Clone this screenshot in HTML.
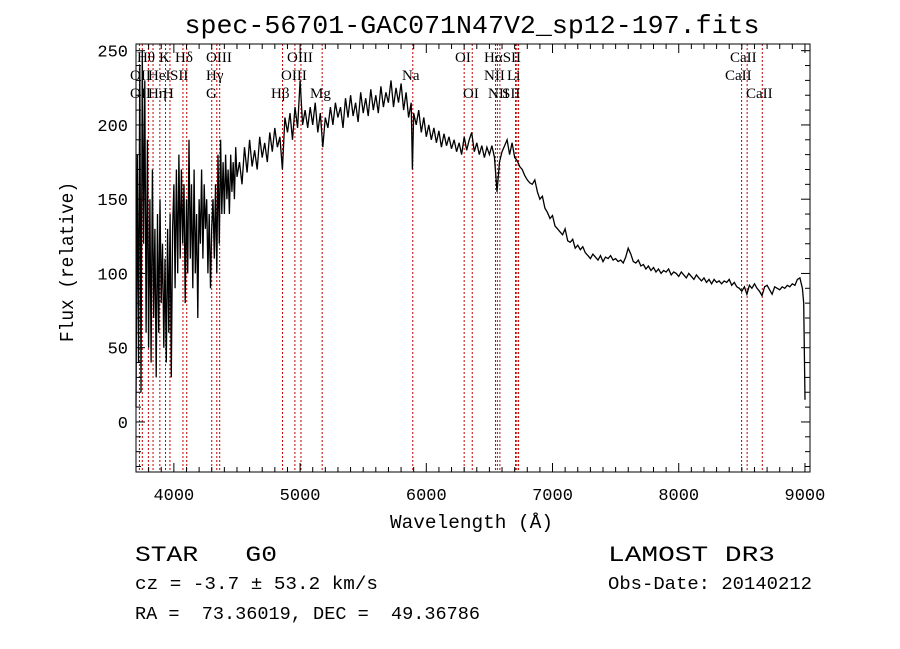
<!DOCTYPE html>
<html><head><meta charset="utf-8"><style>
html,body{margin:0;padding:0;background:#fff;}
svg{display:block;}
text{font-family:"Liberation Mono",monospace;fill:#000;white-space:pre;}
.lbl{font-family:"Liberation Serif",serif;font-size:15px;}
</style></head><body>
<svg id="chart" width="900" height="649" viewBox="0 0 900 649" xmlns="http://www.w3.org/2000/svg" xml:space="preserve">
<rect x="0" y="0" width="900" height="649" fill="#fff"/>
<text x="472" y="33" font-size="26" text-anchor="middle" textLength="575" lengthAdjust="spacingAndGlyphs">spec-56701-GAC071N47V2_sp12-197.fits</text>
<g id="lines"></g>
<g id="labels"></g>
<path id="spec" fill="none" stroke="#000" stroke-width="1.3"/>
<rect x="136" y="44" width="674" height="428" fill="none" stroke="#000" stroke-width="1"/>
<g id="axes"></g>
<text x="390" y="528" font-size="19" textLength="163" lengthAdjust="spacingAndGlyphs">Wavelength (Å)</text>
<text transform="translate(73,342) rotate(-90)" font-size="19" textLength="160" lengthAdjust="spacingAndGlyphs">Flux (relative)</text>
<text x="135" y="561" font-size="22" textLength="142" lengthAdjust="spacingAndGlyphs">STAR   G0</text>
<text x="608" y="561" font-size="22" textLength="167" lengthAdjust="spacingAndGlyphs">LAMOST DR3</text>
<text x="135" y="589" font-size="18" textLength="243" lengthAdjust="spacingAndGlyphs">cz = -3.7 ± 53.2 km/s</text>
<text x="608" y="589" font-size="18" textLength="204" lengthAdjust="spacingAndGlyphs">Obs-Date: 20140212</text>
<text x="135" y="619" font-size="18" textLength="345" lengthAdjust="spacingAndGlyphs">RA =  73.36019, DEC =  49.36786</text>
</svg>
<script>
const wavelengths = [3700,3710,3720,3730,3740,3750,3760,3770,3780,3790,3800,3810,3820,3830,3840,3850,3860,3870,3880,3890,3900,3910,3920,3930,3940,3950,3960,3970,3980,3990,4000,4010,4020,4030,4040,4050,4060,4070,4080,4090,4100,4110,4120,4130,4140,4150,4160,4170,4180,4190,4200,4210,4220,4230,4240,4250,4260,4270,4280,4290,4300,4310,4320,4330,4340,4350,4360,4370,4380,4390,4400,4410,4420,4430,4440,4450,4460,4470,4480,4490,4500,
4520,4540,4560,4580,4600,4620,4640,4660,4680,4700,4720,4740,4760,4780,4800,4820,4840,4860,4880,4900,4920,4940,4960,4980,5000,5020,5040,5060,5080,5100,5120,5140,5160,5180,5200,5220,5240,5260,5280,5300,5320,5340,5360,5380,5400,5420,5440,5460,5480,5500,5520,5540,5560,5580,5600,5620,5640,5660,5680,5700,5720,5740,5760,5780,5800,5820,5840,5860,5880,5890,5900,5920,5940,5960,5980,6000,6020,6040,6060,6080,6100,6120,6140,6160,6180,6200,6220,6240,6260,6280,6300,6320,6340,6360,6380,6400,6420,6440,6460,6480,6500,6520,6540,6560,6580,6600,6620,6640,6660,6680,6700,6720,6740,6760,6780,6800,
6820,6840,6860,6880,6900,6920,6940,6960,6980,7000,7020,7040,7060,7080,7100,7120,7140,7160,7180,7200,7220,7240,7260,7280,7300,7320,7340,7360,7380,7400,7420,7440,7460,7480,7500,7520,7540,7560,7580,7600,7620,7640,7660,7680,7700,7720,7740,7760,7780,7800,7820,7840,7860,7880,7900,7920,7940,7960,7980,8000,8020,8040,8060,8080,8100,8120,8140,8160,8180,8200,8220,8240,8260,8280,8300,8320,8340,8360,8380,8400,8420,8440,8460,8480,8500,8520,8540,8560,8580,8600,8620,8640,8660,8680,8700,8720,8740,8760,8780,8800,8820,8840,8860,8880,8900,8920,8940,8960,8980,8990,9000];
const fluxes = [10,180,40,240,20,250,120,230,60,190,50,150,40,170,70,130,30,140,60,150,80,120,50,110,40,130,60,140,30,130,160,90,170,100,180,110,170,120,160,80,150,100,190,110,160,90,170,100,140,70,150,120,170,110,160,130,150,100,140,90,130,150,110,160,100,180,120,190,140,175,140,180,150,170,140,180,155,175,150,185,165,
175,160,185,168,190,172,183,170,192,178,188,175,195,182,198,185,192,170,205,195,208,190,212,198,230,200,210,198,212,200,215,195,208,185,205,198,212,200,215,205,212,198,218,205,220,206,215,202,222,208,218,206,224,210,220,208,226,212,222,215,230,212,225,215,228,210,222,205,215,170,208,200,210,195,205,192,200,190,198,188,196,185,194,186,192,184,190,182,188,180,192,183,190,195,182,188,180,186,178,185,180,186,178,155,175,182,186,190,180,188,178,176,172,170,166,163,
161,160,163,155,150,152,144,141,137,139,132,130,128,126,130,122,121,123,117,119,116,118,114,112,110,113,111,109,112,108,111,110,112,109,110,108,109,107,111,117,113,108,107,109,105,106,103,105,102,104,101,103,100,102,101,103,99,101,100,98,101,99,97,100,98,96,99,97,95,97,94,96,93,96,94,95,93,95,94,96,92,94,91,90,88,91,86,92,90,93,90,88,85,91,92,89,86,91,90,89,91,90,92,91,93,92,96,97,90,80,15];
const lineWaves = [3727,3750,3798,3835,3889,3934,3969,4072,4102,4300,4340,4363,4861,4959,5007,5175,5893,6300,6364,6548,6563,6583,6707,6717,6731,8498,8542,8662];
const labelTexts = ["Hθ","K","Hδ","OIII","OIII","OI","HαSII","CaII","OII","HeI","SII","Hγ","OIII","Na","NII","Li","CaII","OII","Hη","H","G","Hβ","Mg","OI","NII","SII","CaII"];
const xTickLabels = ["4000","5000","6000","7000","8000","9000"];
const yTickLabels = ["0","50","100","150","200","250"];

const X0=136,X1=810,Y0=44,Y1=472,WMIN=3700,WMAX=9040,VMIN=-33.7,VMAX=254.5;
function xs(w){return X0+(w-WMIN)*(X1-X0)/(WMAX-WMIN);}
function ys(v){return Y1-(v-VMIN)*(Y1-Y0)/(VMAX-VMIN);}
const NS="http://www.w3.org/2000/svg";

let d="";
for(let i=0;i<wavelengths.length;i++){d+=(i?"L":"M")+xs(wavelengths[i]).toFixed(1)+","+ys(Math.max(VMIN,Math.min(VMAX,fluxes[i]))).toFixed(1);}
document.getElementById("spec").setAttribute("d",d);

const lg=document.getElementById("lines");
lineWaves.forEach(w=>{
  const l=document.createElementNS(NS,"line");
  
  
  l.setAttribute("x1",xs(w));l.setAttribute("x2",xs(w));
  l.setAttribute("y1",Y0);l.setAttribute("y2",Y1);
  l.setAttribute("stroke","#c00000");l.setAttribute("stroke-width","1");
  l.setAttribute("stroke-dasharray","2,2");
  lg.appendChild(l);
});

const labelRows=[0,0,0,0,0,0,0,0,1,1,1,1,1,1,1,1,1,2,2,2,2,2,2,2,2,2,2];
const labelX=[137,159,175,206,287,455,484,730,130,148,170,206,281,402,484,507,725,130,148,163,206,271,310,463,488,502,746];
const lbg=document.getElementById("labels");
labelTexts.forEach((t,i)=>{
  const e=document.createElementNS(NS,"text");
  
  
  e.setAttribute("class","lbl");
  e.setAttribute("x",labelX[i]);
  e.setAttribute("y",62+labelRows[i]*18);
  e.textContent=t;
  lbg.appendChild(e);
});

const ax=document.getElementById("axes");
function ln(x1,y1,x2,y2){const l=document.createElementNS(NS,"line");l.setAttribute("x1",x1);l.setAttribute("y1",y1);l.setAttribute("x2",x2);l.setAttribute("y2",y2);l.setAttribute("stroke","#000");l.setAttribute("stroke-width","1");ax.appendChild(l);}
for(let w=3700;w<=9040;w+=100){
  const x=xs(w), maj=(w%1000===0), len=maj?9:5;
  ln(x,Y1,x,Y1-len);ln(x,Y0,x,Y0+len);
}
xTickLabels.forEach(s=>{
  const e=document.createElementNS(NS,"text");
  
  
  e.setAttribute("x",xs(+s));e.setAttribute("y",500);e.setAttribute("font-size","17");
  e.setAttribute("text-anchor","middle");e.textContent=s;ax.appendChild(e);
});
for(let v=-30;v<=250;v+=10){
  const y=ys(v), maj=(v%50===0), len=maj?9:5;
  ln(X0,y,X0+len,y);ln(X1,y,X1-len,y);
}
yTickLabels.forEach(s=>{
  const e=document.createElementNS(NS,"text");
  
  
  e.setAttribute("x",128);e.setAttribute("y",ys(+s)+6);e.setAttribute("font-size","17");
  e.setAttribute("text-anchor","end");e.textContent=s;ax.appendChild(e);
});
</script>
</body></html>
